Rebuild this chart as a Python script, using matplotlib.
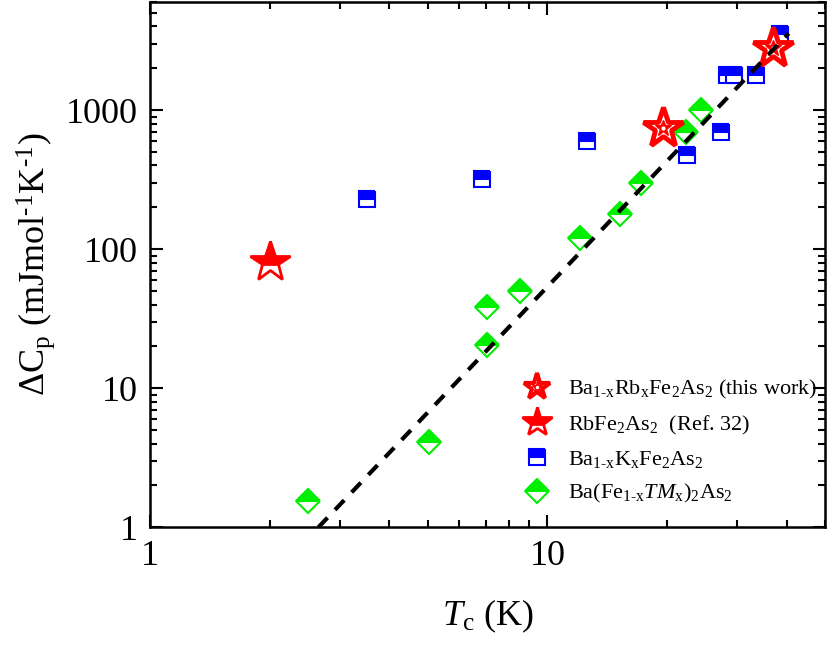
import numpy as np
import matplotlib
matplotlib.use('Agg')
import matplotlib.pyplot as plt
from matplotlib.lines import Line2D
from matplotlib.ticker import LogLocator, FixedLocator, NullFormatter, FixedFormatter

#------------------------------------------------------------------------------
#Fonts: Times-like serif for everything, including the math text

plt.rcParams['font.family'] = ['Liberation Serif', 'DejaVu Serif']
plt.rcParams['mathtext.fontset'] = 'custom'
plt.rcParams['mathtext.rm'] = 'Liberation Serif'
plt.rcParams['mathtext.it'] = 'Liberation Serif:italic'
plt.rcParams['mathtext.bf'] = 'Liberation Serif:bold'

#------------------------------------------------------------------------------
#Data (Tc in K, jump in specific heat in mJ/mol K)

tc_rb_work = [19.6, 37.0]                                                      #Ba(1-x)Rb(x)Fe2As2, this work
dc_rb_work = [740, 2800]

tc_rb_ref = [2.0]                                                              #RbFe2As2, Ref. 32
dc_rb_ref = [81]

tc_bak = [3.52, 6.86, 12.6, 22.4, 27.4, 28.4, 29.5, 33.5, 38.6]                 #Ba(1-x)K(x)Fe2As2
dc_bak = [230, 320, 600, 476, 697, 1790, 1790, 1790, 3500]

tc_tm = [2.5, 5.02, 7.05, 7.05, 8.55, 12.1, 15.2, 17.2, 22.3, 24.4]             #Ba(Fe(1-x)TM(x))2As2
dc_tm = [1.55, 4.1, 20.3, 38.2, 50.3, 120, 179, 300, 700, 997]

fit_coef = 0.0537                                                              #dC = a*Tc^3 guide line
fit_power = 3.0
fit_tc_range = [2.65, 40.5]

red = '#ff0000'
blue = '#0000ff'
green = '#00ee00'

#------------------------------------------------------------------------------

fig = plt.figure(figsize=(8.3, 6.47), dpi=100)
ax = fig.add_axes([0.181, 0.185, 0.813, 0.812])

ax.plot(tc_bak, dc_bak, ls='none', marker='s', ms=12, mew=1.5,
        mfc=blue, mfcalt='white', mec=blue, fillstyle='top', zorder=3)

ax.plot(tc_tm, dc_tm, ls='none', marker='D', ms=12.5, mew=1.5,
        mfc=green, mfcalt='white', mec=green, fillstyle='top', zorder=3)

ax.plot(tc_rb_ref, dc_rb_ref, ls='none', marker='*', ms=30, mew=2,
        mfc=red, mfcalt='white', mec=red, fillstyle='top', zorder=4)

ax.plot(tc_rb_work, dc_rb_work, ls='none', marker='*', ms=30, mew=3.5,
        mfc='white', mec=red, zorder=4)
ax.plot(tc_rb_work, dc_rb_work, ls='none', marker='*', ms=12, mew=1,
        mfc=red, mec=red, zorder=4)
ax.plot(tc_rb_work, dc_rb_work, ls='none', marker='o', ms=3, mew=0,
        mfc='white', zorder=4)

fit_tc = np.array(fit_tc_range)                                                #straight line on log-log axes, two ends are enough
ax.plot(fit_tc, fit_coef*fit_tc**fit_power, color='black', lw=3,
        ls=(0, (3.2, 2.6)), zorder=5)

#------------------------------------------------------------------------------
#Axes, ticks and labels

ax.set_xscale('log')
ax.set_yscale('log')
ax.set_xlim(1, 50)
ax.set_ylim(1, 6000)

ax.xaxis.set_major_locator(FixedLocator([1, 10]))
ax.xaxis.set_major_formatter(FixedFormatter(['1', '10']))
ax.xaxis.set_minor_locator(LogLocator(base=10, subs=np.arange(2, 10)))
ax.xaxis.set_minor_formatter(NullFormatter())

ax.yaxis.set_major_locator(FixedLocator([1, 10, 100, 1000]))
ax.yaxis.set_major_formatter(FixedFormatter(['1', '10', '100', '1000']))
ax.yaxis.set_minor_locator(LogLocator(base=10, subs=np.arange(2, 10)))
ax.yaxis.set_minor_formatter(NullFormatter())

ax.tick_params(which='both', direction='in', top=True, right=True,
               width=1.5, labelsize=26)
ax.tick_params(which='major', length=9, pad=9)
ax.tick_params(which='minor', length=5)
for s in ax.spines.values():
    s.set_linewidth(1.8)

ax.set_xlabel(r'$T_\mathrm{c}$ (K)', fontsize=26, labelpad=18)
ax.set_ylabel(r'$\Delta\mathrm{C_p}$ (mJmol$^{\text{-}1}$K$^{\text{-}1}$)',
              fontsize=26, labelpad=6)

#------------------------------------------------------------------------------
#Legend with the same marker styles, slightly smaller stars

h_work = (Line2D([], [], ls='none', marker='*', ms=20, mew=3, mfc='white', mec=red),
          Line2D([], [], ls='none', marker='*', ms=8, mew=1, mfc=red, mec=red),
          Line2D([], [], ls='none', marker='o', ms=2.5, mew=0, mfc='white'))
h_ref = Line2D([], [], ls='none', marker='*', ms=22, mew=2, mfc=red,
               mfcalt='white', mec=red, fillstyle='top')
h_bak = Line2D([], [], ls='none', marker='s', ms=11, mew=1.5, mfc=blue,
               mfcalt='white', mec=blue, fillstyle='top')
h_tm = Line2D([], [], ls='none', marker='D', ms=12, mew=1.5, mfc=green,
              mfcalt='white', mec=green, fillstyle='top')

labels = [r'Ba$_{\text{1-x}}$Rb$_{\mathrm{x}}$Fe$_{\mathrm{2}}$As$_{\mathrm{2}}$ (this work)',
          r'RbFe$_{\mathrm{2}}$As$_{\mathrm{2}}$  (Ref. 32)',
          r'Ba$_{\text{1-x}}$K$_{\mathrm{x}}$Fe$_{\mathrm{2}}$As$_{\mathrm{2}}$',
          r'Ba(Fe$_{\text{1-x}}$$\mathit{TM}$$_{\mathrm{x}}$)$_{\mathrm{2}}$As$_{\mathrm{2}}$']

ax.legend([h_work, h_ref, h_bak, h_tm], labels, loc='lower right',
          bbox_to_anchor=(1.022, 0.0), frameon=False, fontsize=16,
          handlelength=1.2, handletextpad=0.8, labelspacing=0.55,
          borderaxespad=0.6)

fig.savefig('out.png', dpi=100)
